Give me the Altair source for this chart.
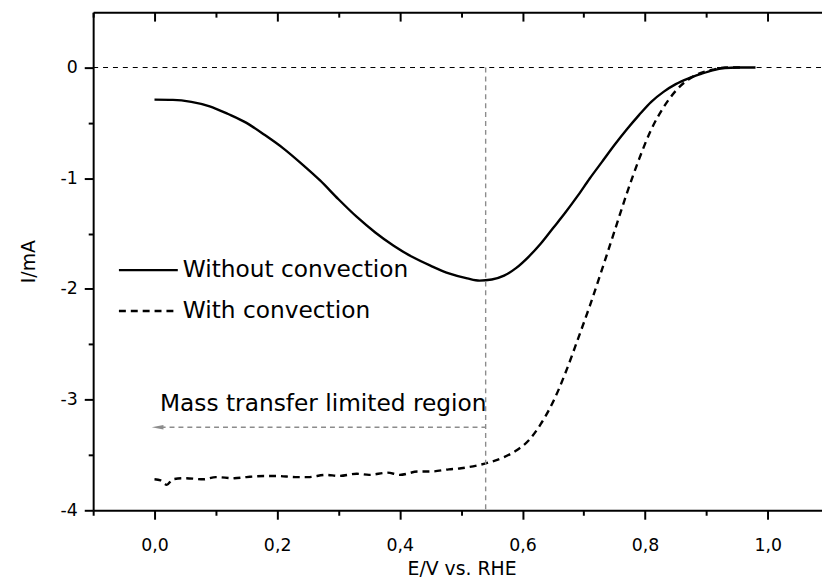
import altair as alt
import pandas as pd

# ---------------- data ----------------
x_without = [0.00, 0.03, 0.06, 0.09, 0.12, 0.15, 0.18, 0.21, 0.24, 0.27, 0.30, 0.33, 0.36, 0.39, 0.42,
             0.45, 0.48, 0.51, 0.53, 0.55, 0.57, 0.59, 0.61, 0.63, 0.65, 0.67, 0.69, 0.71, 0.73,
             0.75, 0.77, 0.79, 0.81, 0.83, 0.85, 0.87, 0.89, 0.91, 0.93, 0.95, 0.98]
i_without = [-0.29, -0.292, -0.31, -0.35, -0.42, -0.50, -0.61, -0.73, -0.87, -1.02, -1.19, -1.35, -1.49, -1.61, -1.71,
             -1.79, -1.86, -1.905, -1.925, -1.915, -1.88, -1.81, -1.71, -1.59, -1.45, -1.31, -1.16, -1.00, -0.85,
             -0.70, -0.56, -0.43, -0.31, -0.22, -0.15, -0.10, -0.06, -0.025, -0.005, 0.0, 0.0]

x_with = [0.00, 0.01, 0.02, 0.03, 0.05, 0.08, 0.10, 0.13, 0.15, 0.18, 0.20, 0.23, 0.25, 0.28, 0.30,
          0.33, 0.35, 0.38, 0.40, 0.43, 0.45, 0.48, 0.50, 0.53, 0.55, 0.57, 0.59, 0.61, 0.63, 0.65,
          0.67, 0.69, 0.71, 0.73, 0.75, 0.77, 0.79, 0.81, 0.83, 0.85, 0.87, 0.89, 0.91, 0.93, 0.96]
i_with = [-3.72, -3.73, -3.77, -3.72, -3.71, -3.72, -3.70, -3.71, -3.70, -3.69, -3.69, -3.70, -3.70, -3.68, -3.69,
          -3.67, -3.68, -3.66, -3.68, -3.65, -3.65, -3.63, -3.62, -3.59, -3.56, -3.52, -3.46, -3.37, -3.22, -3.02,
          -2.76, -2.46, -2.15, -1.82, -1.48, -1.14, -0.83, -0.56, -0.36, -0.21, -0.11, -0.05, -0.02, 0.0, 0.0]

series_names = ["Without convection", "With convection"]
annotation_text = "Mass transfer limited region"
x_title = "E/V vs. RHE"
y_title = "I/mA"

x_major = [0.0, 0.2, 0.4, 0.6, 0.8, 1.0]
x_minor = [-0.1, 0.1, 0.3, 0.5, 0.7, 0.9]
y_major = [-4, -3, -2, -1, 0]
y_minor = [-3.5, -2.5, -1.5, -0.5]

marker_x = 0.54          # vertical guide
arrow_y = -3.25          # horizontal arrow
arrow_x_end = -0.005
text_xy = (0.009, -3.10)
legend_x = (-0.058, 0.038)
legend_text_x = 0.046
legend_y = (-1.83, -2.20)

# ---------------- layout ----------------
W, H = 736, 503
X_DOM = [-0.1, -0.1 + W / 619.3]
Y_DOM = [-4, 0.5]
FONT = "DejaVu Sans"

xs = alt.Scale(domain=X_DOM, nice=False, zero=False)
ys = alt.Scale(domain=Y_DOM, nice=False, zero=False)

df_without = pd.DataFrame({"x": x_without, "y": i_without})
df_with = pd.DataFrame({"x": x_with, "y": i_with})

AX = dict(grid=False, domainColor="black", tickColor="black", domainWidth=2, tickWidth=2,
          labelFont=FONT, titleFont=FONT, labelColor="black", titleColor="black")

x_bottom_major = alt.Axis(orient="bottom", values=x_major, tickSize=9, labelFontSize=17.5, labelPadding=18,
                          labelExpr="replace(format(datum.value, '.1f'), '.', ',')",
                          title=x_title, titleFontSize=19, titleFontWeight="normal", titlePadding=5,
                          titleX=372, **AX)
y_left_major = alt.Axis(orient="left", values=y_major, tickSize=9, labelFontSize=17.5, labelPadding=7,
                        labelExpr="datum.value < 0 ? '-' + format(-datum.value, 'd') : format(datum.value, 'd')",
                        title=y_title, titleFontSize=19, titleFontWeight="normal", titlePadding=22, **AX)
x_bottom_minor = alt.Axis(orient="bottom", values=x_minor, tickSize=5, labels=False, domain=False, title=None, **AX)
y_left_minor = alt.Axis(orient="left", values=y_minor, tickSize=5, labels=False, domain=False, title=None, **AX)
x_top_major = alt.Axis(orient="bottom", offset=-H, values=x_major, tickSize=9, labels=False, domain=True,
                       title=None, **AX)
x_top_minor = alt.Axis(orient="bottom", offset=-H, values=x_minor, tickSize=5, labels=False, domain=False,
                       title=None, **AX)

solid = alt.Chart(df_without).mark_line(color="black", strokeWidth=2.4, interpolate="monotone", clip=True).encode(
    x=alt.X("x:Q", scale=xs, axis=x_bottom_major),
    y=alt.Y("y:Q", scale=ys, axis=y_left_major),
)
dashed = alt.Chart(df_with).mark_line(color="black", strokeWidth=2.4, strokeDash=[7, 5],
                                      interpolate="monotone", clip=True).encode(
    x=alt.X("x:Q", scale=xs, axis=x_bottom_minor),
    y=alt.Y("y:Q", scale=ys, axis=y_left_minor),
)

zero_df = pd.DataFrame({"x": [X_DOM[0]], "x2": [X_DOM[1]], "y": [0.0]})
zero_line = alt.Chart(zero_df).mark_rule(color="black", strokeWidth=1.1, strokeDash=[5, 5]).encode(
    x=alt.X("x:Q", scale=xs, axis=x_top_major),
    x2="x2:Q",
    y=alt.Y("y:Q", scale=ys, axis=None),
)

vline_df = pd.DataFrame({"x": [marker_x], "y": [0.0], "y2": [-4.0]})
vline = alt.Chart(vline_df).mark_rule(color="#8c8c8c", strokeWidth=1.4, strokeDash=[5, 4]).encode(
    x=alt.X("x:Q", scale=xs, axis=x_top_minor),
    y=alt.Y("y:Q", scale=ys, axis=None),
    y2="y2:Q",
)

arrow_df = pd.DataFrame({"x": [arrow_x_end + 0.015], "x2": [marker_x], "y": [arrow_y]})
arrow_line = alt.Chart(arrow_df).mark_rule(color="#8c8c8c", strokeWidth=1.4, strokeDash=[5, 4]).encode(
    x=alt.X("x:Q", scale=xs, axis=None),
    x2="x2:Q",
    y=alt.Y("y:Q", scale=ys, axis=None),
)
head_df = pd.DataFrame({"x": [arrow_x_end + 0.01], "y": [arrow_y]})
arrow_head = alt.Chart(head_df).mark_point(shape="M -1 0 L 1 -0.4 L 1 0.4 Z", filled=True, color="#8c8c8c",
                                           size=140, opacity=1).encode(
    x=alt.X("x:Q", scale=xs, axis=None),
    y=alt.Y("y:Q", scale=ys, axis=None),
)

text_df = pd.DataFrame({"x": [text_xy[0]], "y": [text_xy[1]], "t": [annotation_text]})
ann = alt.Chart(text_df).mark_text(align="left", baseline="alphabetic", font=FONT, fontSize=23.5,
                                   color="black").encode(
    x=alt.X("x:Q", scale=xs, axis=None),
    y=alt.Y("y:Q", scale=ys, axis=None),
    text="t:N",
)

leg_df = pd.DataFrame({"x": [legend_x[0]] * 2, "x2": [legend_x[1]] * 2, "y": list(legend_y),
                       "tx": [legend_text_x] * 2, "name": series_names})
leg_solid = alt.Chart(leg_df.iloc[[0]]).mark_rule(color="black", strokeWidth=2.4).encode(
    x=alt.X("x:Q", scale=xs, axis=None), x2="x2:Q", y=alt.Y("y:Q", scale=ys, axis=None))
leg_dash = alt.Chart(leg_df.iloc[[1]]).mark_rule(color="black", strokeWidth=2.4, strokeDash=[7, 5]).encode(
    x=alt.X("x:Q", scale=xs, axis=None), x2="x2:Q", y=alt.Y("y:Q", scale=ys, axis=None))
leg_text = alt.Chart(leg_df).mark_text(align="left", baseline="middle", font=FONT, fontSize=23.5,
                                       color="black").encode(
    x=alt.X("tx:Q", scale=xs, axis=None), y=alt.Y("y:Q", scale=ys, axis=None), text="name:N")

chart = alt.layer(
    solid, dashed, zero_line, vline, arrow_line, arrow_head, ann, leg_solid, leg_dash, leg_text
).resolve_scale(x="shared", y="shared").resolve_axis(x="independent", y="independent").properties(
    width=W, height=H,
    autosize=alt.AutoSizeParams(type="none"),
    padding={"left": 86, "top": 1.4, "right": 0, "bottom": 72},
).configure_view(stroke=None)

chart.save("out.html", embed_options={"renderer": "svg", "actions": False})
